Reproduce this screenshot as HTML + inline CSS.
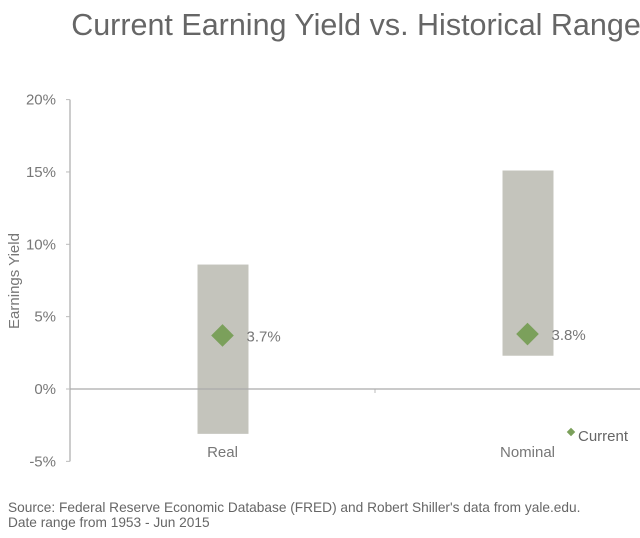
<!DOCTYPE html>
<html><head><meta charset="utf-8"><style>
body{margin:0;background:#fff;font-family:"Liberation Sans",sans-serif;}
svg text{font-family:"Liberation Sans",sans-serif;}
</style></head><body>
<svg width="640" height="533">
<text x="356" y="35" text-anchor="middle" font-size="30.5" fill="#666">Current Earning Yield vs. Historical Range</text>
<g id="axes"></g>
<g id="marks"></g>
<text transform="translate(19,281) rotate(-90)" text-anchor="middle" font-size="15" fill="#777">Earnings Yield</text>
<g>
<rect x="568" y="429" width="6" height="6" transform="rotate(45 571 432)" fill="#7ba05b"/>
<text x="578" y="441" font-size="15" fill="#666">Current</text>
</g>
<text x="8" y="512" font-size="13.7" fill="#666">Source: Federal Reserve Economic Database (FRED) and Robert Shiller's data from yale.edu.</text>
<text x="8" y="527" font-size="13.7" fill="#666">Date range from 1953 - Jun 2015</text>
</svg>
<script>
const categories=["Real","Nominal"];
const rangeLow=[-3.1,2.3];
const rangeHigh=[8.6,15.1];
const current=[3.7,3.8];
const currentLabels=["3.7%","3.8%"];
const yTicks=[-5,0,5,10,15,20];
const yTickLabels=["-5%","0%","5%","10%","15%","20%"];
const NS="http://www.w3.org/2000/svg";
const x0=70,pw=610;
const y=v=>389-v*14.47;
const x=i=>x0+pw*(i+0.5)/categories.length;
function mk(tag,attrs,parent){const e=document.createElementNS(NS,tag);for(const k in attrs)e.setAttribute(k,attrs[k]);parent.appendChild(e);return e;}
const ax=document.getElementById('axes'),mg=document.getElementById('marks');
let l=mk('line',{x1:x0,x2:x0,y1:y(20),y2:y(-5),stroke:'#bbb','stroke-width':1.5},ax);


yTicks.forEach((t,i)=>{
 let tk=mk('line',{x1:x0-4,x2:x0,y1:y(t),y2:y(t),stroke:'#bbb'},ax);
 
 
 let tx=mk('text',{x:56,y:y(t)+5,'text-anchor':'end','font-size':15,fill:'#777'},ax);
 tx.textContent=yTickLabels[i];
 
 
});
let mid=x0+pw/2;
let tk2=mk('line',{x1:mid,x2:mid,y1:y(0),y2:y(0)+4,stroke:'#bbb'},ax);


categories.forEach((c,i)=>{
 let r=mk('rect',{x:x(i)-25,width:51,y:y(rangeHigh[i]),height:y(rangeLow[i])-y(rangeHigh[i]),fill:'#c4c4bc'},mg);
 
 
 let cx=x(i),cy=y(current[i]);
 let d=mk('rect',{x:cx-8,y:cy-8,width:16,height:16,fill:'#7ba05b',transform:`rotate(45 ${cx} ${cy})`},mg);
 
 
 let lb=mk('text',{x:cx+24,y:cy+6,'font-size':15,fill:'#777'},mg);
 lb.textContent=currentLabels[i];
 
 
 let cl=mk('text',{x:cx,y:457,'text-anchor':'middle','font-size':15,fill:'#777'},mg);
 cl.textContent=c;
 
 
});
let z=mk('line',{x1:x0,x2:640,y1:y(0),y2:y(0),stroke:'#aaa','stroke-width':1.2},mg);


</script>
</body></html>
